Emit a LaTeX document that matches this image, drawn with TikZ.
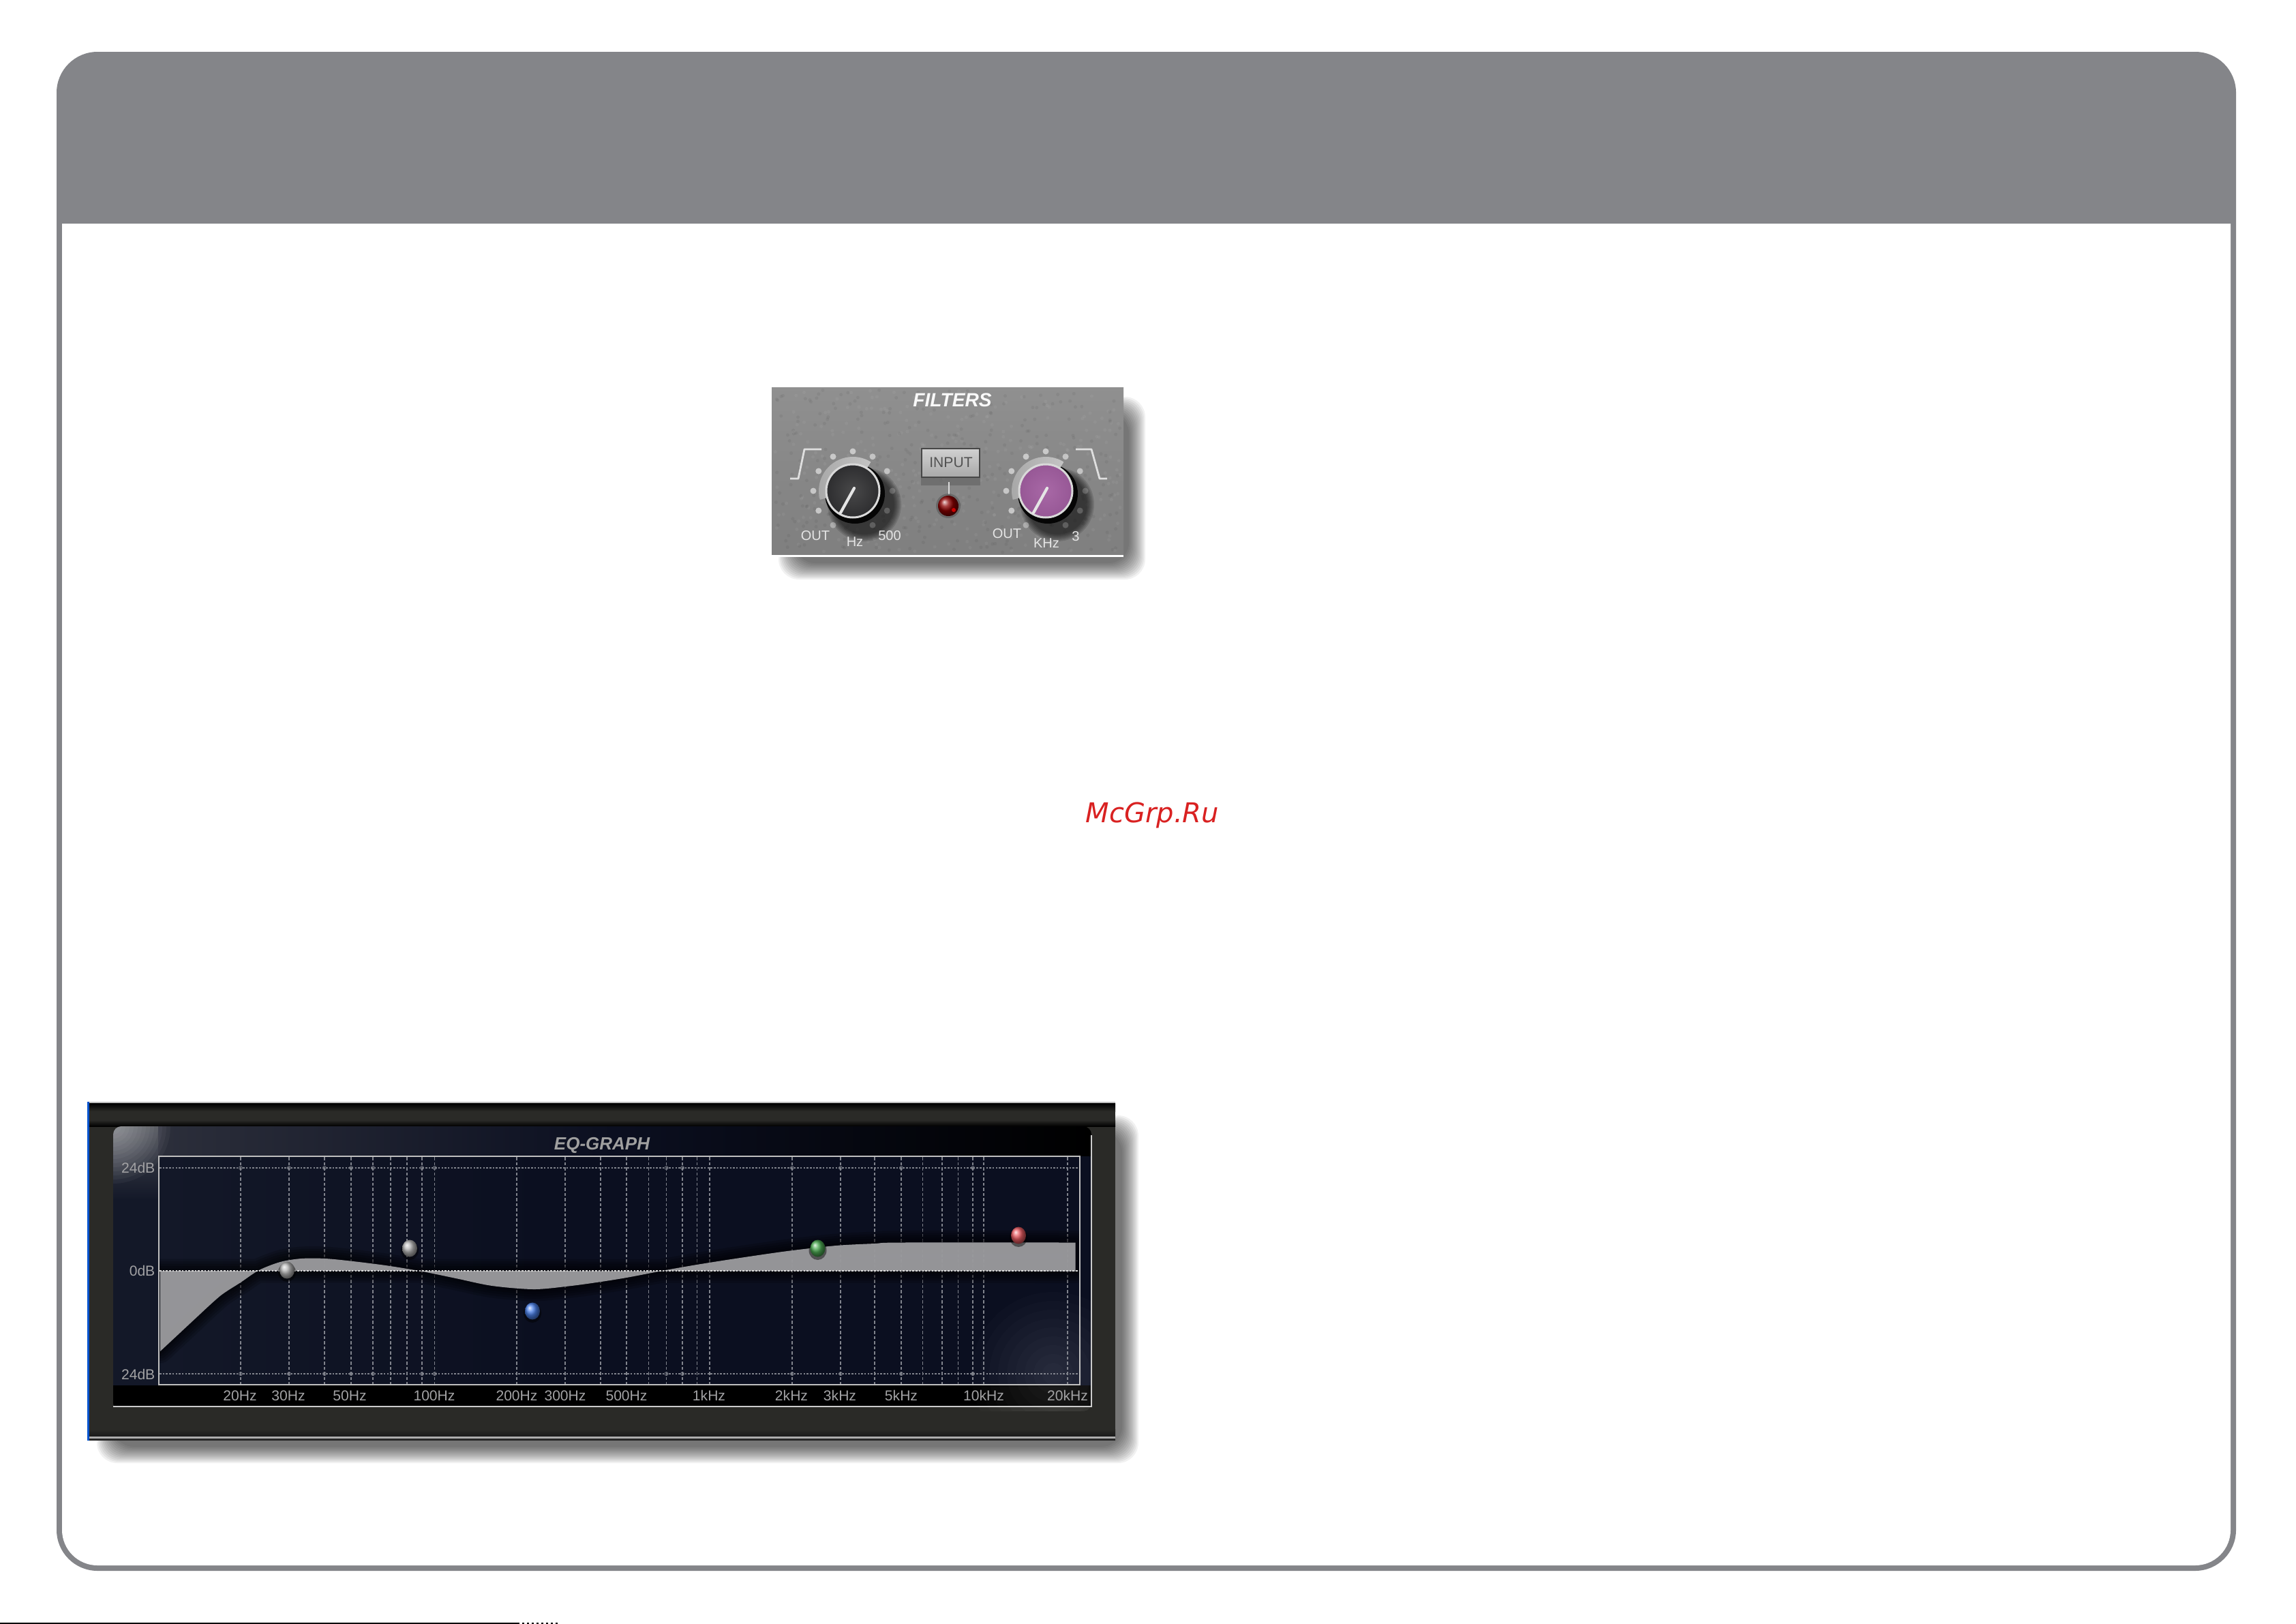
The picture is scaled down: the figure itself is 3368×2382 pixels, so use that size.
\documentclass[tikz,border=0pt]{standalone}
\usepackage{fontspec}
\setmainfont{Liberation Sans}
\newfontfamily\wmfont{DejaVu Sans}
\usetikzlibrary{shadings}
\definecolor{framegray}{HTML}{848589}
\definecolor{panelgray}{HTML}{8A8A8A}
\definecolor{bandgray}{HTML}{9A9A9D}
\definecolor{gridcol}{HTML}{80838C}
\definecolor{labelcol}{HTML}{A2A2A4}
\definecolor{eqouter}{HTML}{2A2A27}
\definecolor{eqinner}{HTML}{0B0F20}
\definecolor{eqside}{HTML}{131828}
\definecolor{wmred}{HTML}{D92121}
\definecolor{knobdark}{HTML}{2E2E30}
\definecolor{knobdarkin}{HTML}{484849}
\definecolor{knobpurple}{HTML}{975896}
\definecolor{knobpurplein}{HTML}{A868A6}
\definecolor{ballblue}{HTML}{4A80E8}
\definecolor{ballgreen}{HTML}{4CAA52}
\definecolor{ballred}{HTML}{E85A60}
\definecolor{ballgray}{HTML}{B4B4B4}
\definecolor{collarlo}{HTML}{A8A8A8}
\definecolor{collarhi}{HTML}{C4C4C4}
\newcommand{\softshadow}[6]{% x1 y1 x2 y2 steps opacity
  \foreach \i in {#5,...,0}{
    \fill[black,opacity=#6,rounded corners=3mm]
      ({#1-2*\i},{#2-2*\i}) rectangle ({#3+2*\i},{#4+2*\i});
  }
}
\newcommand{\knob}[3]{% cx, outer body colour, inner body colour
  % knob shadow
  \foreach \i in {0,...,5}{\fill[black,opacity=.13] (#1+17,740) circle[radius={54-2*\i}];}
  % scale dots
  \foreach \a/\o in {90/.55,60/.5,120/.55,30/.5,150/.55,0/.2,180/.55,-30/.2,210/.55,-60/.2,240/.35}{
    \fill[white,opacity=\o] (#1,720) ++(-\a:58) circle[radius=4.5];
  }
  % collar: dark under-edge, light wedge upper left
  \fill[black,opacity=.9] (#1+3,724) circle[radius=44];
  \shade[left color=collarlo,right color=collarhi]
    (#1,720) -- ++(-58:50) arc[start angle=-58,end angle=-195,radius=50] -- cycle;
  % body
  \shade[inner color=#3,outer color=#2] (#1,720) circle[radius=38];
  \draw[line width=.3mm,white!85!black] (#1,720) circle[radius=39];
  \draw[line width=.42mm,white!90!black,line cap=round] (#1+2,716) -- (#1-18,752);
}
\begin{document}
\begin{tikzpicture}[x=0.1mm,y=-0.1mm,
  knobtext/.style={text=white!80!gray,font=\fontsize{5.7pt}{6pt}\selectfont,inner sep=0pt},
  eqtext/.style={text=labelcol,font=\fontsize{6pt}{7pt}\selectfont,inner sep=0pt},
  gridv/.style={gridcol,line width=.12mm,dash pattern=on .45mm off .3mm},
  gridh/.style={gridcol,line width=.14mm,dash pattern=on .25mm off .22mm},
  steptrace/.style={white!75!gray,line width=.28mm,line join=round}]
\useasboundingbox (0,0) rectangle (3368,2382);
\fill[white] (0,0) rectangle (3368,2382);

% ---------- page frame
\fill[framegray,rounded corners=6mm] (83,76) rectangle (3280,2304);
\fill[white] (91,328) -- (3272,328) -- (3272,2244) arc[start angle=0,end angle=90,radius=52]
   -- (143,2296) arc[start angle=90,end angle=180,radius=52] -- cycle;

% bottom scrap line
\fill[black] (0,2380) rectangle (759,2382);
\draw[black,line width=.2mm,dash pattern=on .3mm off .4mm] (759,2381) -- (821,2381);

% ---------- FILTERS panel
\softshadow{1166}{606}{1656}{826}{12}{.055}
\shade[top color=panelgray!95!white,bottom color=panelgray!92!black] (1132,568) rectangle (1648,814);
\pgfmathsetseed{42}
\foreach \k in {1,...,600}{
  \pgfmathsetmacro{\px}{1136+rnd*508}
  \pgfmathsetmacro{\py}{572+rnd*238}
  \pgfmathsetmacro{\pc}{rnd>.5?100:0}
  \fill[black!\pc!white,opacity=.05] (\px,\py) circle[radius=2.5];
}
\fill[white] (1132,814) rectangle (1648,817);
\node[text=white!95!gray,font=\fontsize{8pt}{9pt}\selectfont\bfseries\itshape,inner sep=0pt] (filterstitle) at (1397,587) {FILTERS};

\draw[steptrace] (1159,702) -- (1171,702) -- (1180,659) -- (1205,659);
\draw[steptrace] (1578,659) -- (1601,659) -- (1613,702) -- (1624,702);

\knob{1251}{knobdark}{knobdarkin}
\knob{1534}{knobpurple}{knobpurplein}

% INPUT button
\fill[black!60,opacity=.7] (1351,698) rectangle (1438,712);
\draw[black!72,line width=.28mm,top color=white!82!black,bottom color=white!66!black] (1352,658) rectangle (1437,700);
\node[text=black!68,font=\fontsize{6pt}{7pt}\selectfont,inner sep=0pt] (inputlabel) at (1395,678) {INPUT};
\draw[white!72!gray,line width=.25mm] (1392,707) -- (1392,725);
\fill[black,opacity=.2] (1391,742) circle[radius=18];
\shade[ball color=red!55!black] (1391,742) circle[radius=15];
\fill[red!80!black] (1399,748) circle[radius=3];

\node[knobtext] (out1) at (1196,786) {OUT};
\node[knobtext] (hz) at (1254,795) {Hz};
\node[knobtext] (f500) at (1305,786) {500};
\node[knobtext] (out2) at (1477,783) {OUT};
\node[knobtext] (khz) at (1535,797) {KHz};
\node[knobtext] (f3) at (1578,787) {3};

% ---------- watermark
\node[anchor=base west,text=wmred,font=\wmfont\itshape\fontsize{11.38pt}{12pt}\selectfont,inner sep=0pt] (watermark) at (1592,1206) {McGrp.Ru};

% ---------- EQ panel
\softshadow{166}{1660}{1646}{2122}{12}{.055}
\fill[eqouter] (128,1616) rectangle (1636,2113);
\shade[top color=black,bottom color=eqouter] (128,1618) rectangle (1636,1630);
\shade[top color=eqouter,bottom color=black] (128,1643) rectangle (1636,1652);
\fill[white!50!gray] (128,1616) rectangle (1636,1618);
\shade[top color=eqouter,bottom color=black!90] (128,2096) rectangle (1636,2107);
\fill[white!35!gray] (128,2107) rectangle (1636,2110);
\fill[black!85] (128,2110) rectangle (1636,2113);
\fill[blue!60!cyan!80!black] (128,1616) rectangle (131,2113);

% inner display
\begin{scope}
  \clip[rounded corners=1.2mm] (166,1652) rectangle (1601,2070);
  \shade[top color=gray!45!eqside,bottom color=eqside] (166,1652) rectangle (232,1760);
  \fill[eqside] (166,1760) rectangle (232,2032);
  \shade[left color=gray!28!eqinner,right color=eqinner] (232,1652) rectangle (900,1696);
  \shade[left color=eqinner,right color=black] (900,1652) rectangle (1601,1696);
  \shade[left color=eqside,right color=eqinner] (232,1696) rectangle (800,2032);
  \fill[eqinner] (800,1696) rectangle (1601,2032);
  \fill[black] (166,2032) rectangle (1601,2063);
  \foreach \i in {0,...,13}{\fill[white,opacity=.04] (166,1652) circle[radius={84-6*\i}];}
  \foreach \i in {0,...,8}{\fill[white,opacity=.016] (1545,2015) circle[radius={120-13*\i}];}
\end{scope}
\draw[white!60!gray,line width=.22mm] (166,2063) -- (1601,2063) -- (1601,1665);

% grid lines
\newcommand{\vxs}{353,424,476,515,547,573,597,619,637.6,758,829,881,919,951.5,977.5,1001,1022.4,1041,1162,1233,1283,1322,1353.6,1382,1405.6,1427,1443,1566}
\foreach \xv in \vxs {\draw[gridv] (\xv,1697) -- (\xv,2030);}
\foreach \yv in {1713,2015} {
  \draw[gridh] (234,\yv) -- (1583,\yv);
  \foreach \xv in {353,424,476,515,547,619,637.6,977.5,1001,1162,1233,1322,1427}{
    \draw[gridcol,line width=.08mm] (\xv,\yv) circle[radius=2.5];
  }
}

% response curve with dark halo
\newcommand{\curvepath}{(235,1864) -- (235,1982) -- plot[smooth,tension=.5] coordinates {(294,1927) (324,1900) (353,1881) (380,1863) (411,1851) (442,1846) (477,1846) (518,1850) (569,1856.5) (620,1865) (671,1875.5) (722,1886) (783,1891) (834,1886.5) (875,1881) (919,1874) (976.5,1863) (1022,1855) (1079,1846) (1155,1835) (1226.5,1827) (1283,1824) (1323,1822.5) (1577.5,1822.5)} -- (1577.5,1864.5) -- cycle}
\begin{scope}
  \clip (234,1697) rectangle (1583,2030);
  \foreach \w in {5,4,3,2,1}{
    \draw[black,opacity=.17,line width=\w*.7 mm,line join=round] \curvepath;
  }
\end{scope}
\fill[bandgray,opacity=.96] \curvepath;
\draw[gridh,white!70!gray] (234,1864) -- (1583,1864);

\draw[white!50!gray,line width=.2mm] (232.5,1696) rectangle (1584,2031);

% balls
\foreach \bx/\by/\bc in {421/1863/ballgray,601/1831/ballgray,781/1923/ballblue,1199.5/1831/ballgreen,1494/1812/ballred}{
  \fill[black,opacity=.45] (\bx,\by+3) ellipse[x radius=13,y radius=14];
  \shade[ball color=\bc] (\bx,\by) ellipse[x radius=11,y radius=12.5];
}

% labels
\node[anchor=east,eqtext] (db1) at (228,1713) {24dB};
\node[anchor=east,eqtext] (db2) at (228,1864) {0dB};
\node[anchor=east,eqtext] (db3) at (228,2016) {24dB};
\foreach \nm/\xl/\tx in {h20/352/20Hz,h30/423/30Hz,h50/513/50Hz,h100/637/100Hz,h200/758/200Hz,h300/829/300Hz,h500/919/500Hz,k1/1040/1kHz,k2/1161/2kHz,k3/1232/3kHz,k5/1322/5kHz,k10/1443/10kHz,k20/1566/20kHz}{
  \node[eqtext] (\nm) at (\xl,2047) {\tx};
}
\node[text=white!25!gray,font=\fontsize{7.4pt}{8pt}\selectfont\bfseries\itshape,inner sep=0pt] (eqtitle) at (883,1680) {EQ-GRAPH};
\end{tikzpicture}
\end{document}
